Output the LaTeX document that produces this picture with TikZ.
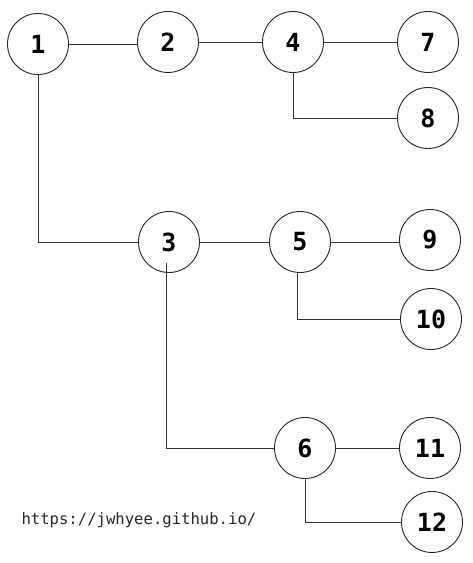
\documentclass[tikz,border=0pt]{standalone}
\usepackage{fontspec}
\setmainfont{DejaVu Sans Mono}
\begin{document}
\begin{tikzpicture}[x=1pt,y=-1pt,
  nd/.style={circle,draw=black!85,line width=0.9pt,minimum size=61pt,inner sep=0pt,font=\fontsize{25}{25}\selectfont\bfseries},
  ln/.style={draw=black!80,line width=0.8pt}]
\useasboundingbox (0,0) rectangle (473,563);
\node[nd] (n1) at (38,44) {1};
\node[nd] (n2) at (168,42) {2};
\node[nd] (n4) at (293,42) {4};
\node[nd] (n7) at (428,42) {7};
\node[nd] (n8) at (428,118) {8};
\node[nd] (n3) at (169,242) {3};
\node[nd] (n5) at (300,242) {5};
\node[nd] (n9) at (430,240) {9};
\node[nd] (n10) at (431,319) {10};
\node[nd] (n6) at (305,448) {6};
\node[nd] (n11) at (430,448) {11};
\node[nd] (n12) at (432,522) {12};
\node[anchor=west,font=\fontsize{15.6}{15.6}\selectfont,text=black!85] (url) at (18,520) {https://jwhyee.github.io/};
\draw[ln] (n1.east) -- (n1.east -| n2.west);
\draw[ln] (n2.east) -- (n2.east -| n4.west);
\draw[ln] (n4.east) -- (n4.east -| n7.west);
\draw[ln] (n4.south) |- (n8.west);
\draw[ln] (n1.south) |- (n3.west);
\draw[ln] (n3.east) -- (n3.east -| n5.west);
\draw[ln] (n5.east) -- (n5.east -| n9.west);
\draw[ln] ([xshift=-3pt]n5.south) |- (n10.west);
\draw[ln] ([xshift=-3pt,yshift=10pt]n3.south) |- (n6.west);
\draw[ln] (n6.east) -- (n6.east -| n11.west);
\draw[ln] (n6.south) |- (n12.west);
\end{tikzpicture}
\end{document}
